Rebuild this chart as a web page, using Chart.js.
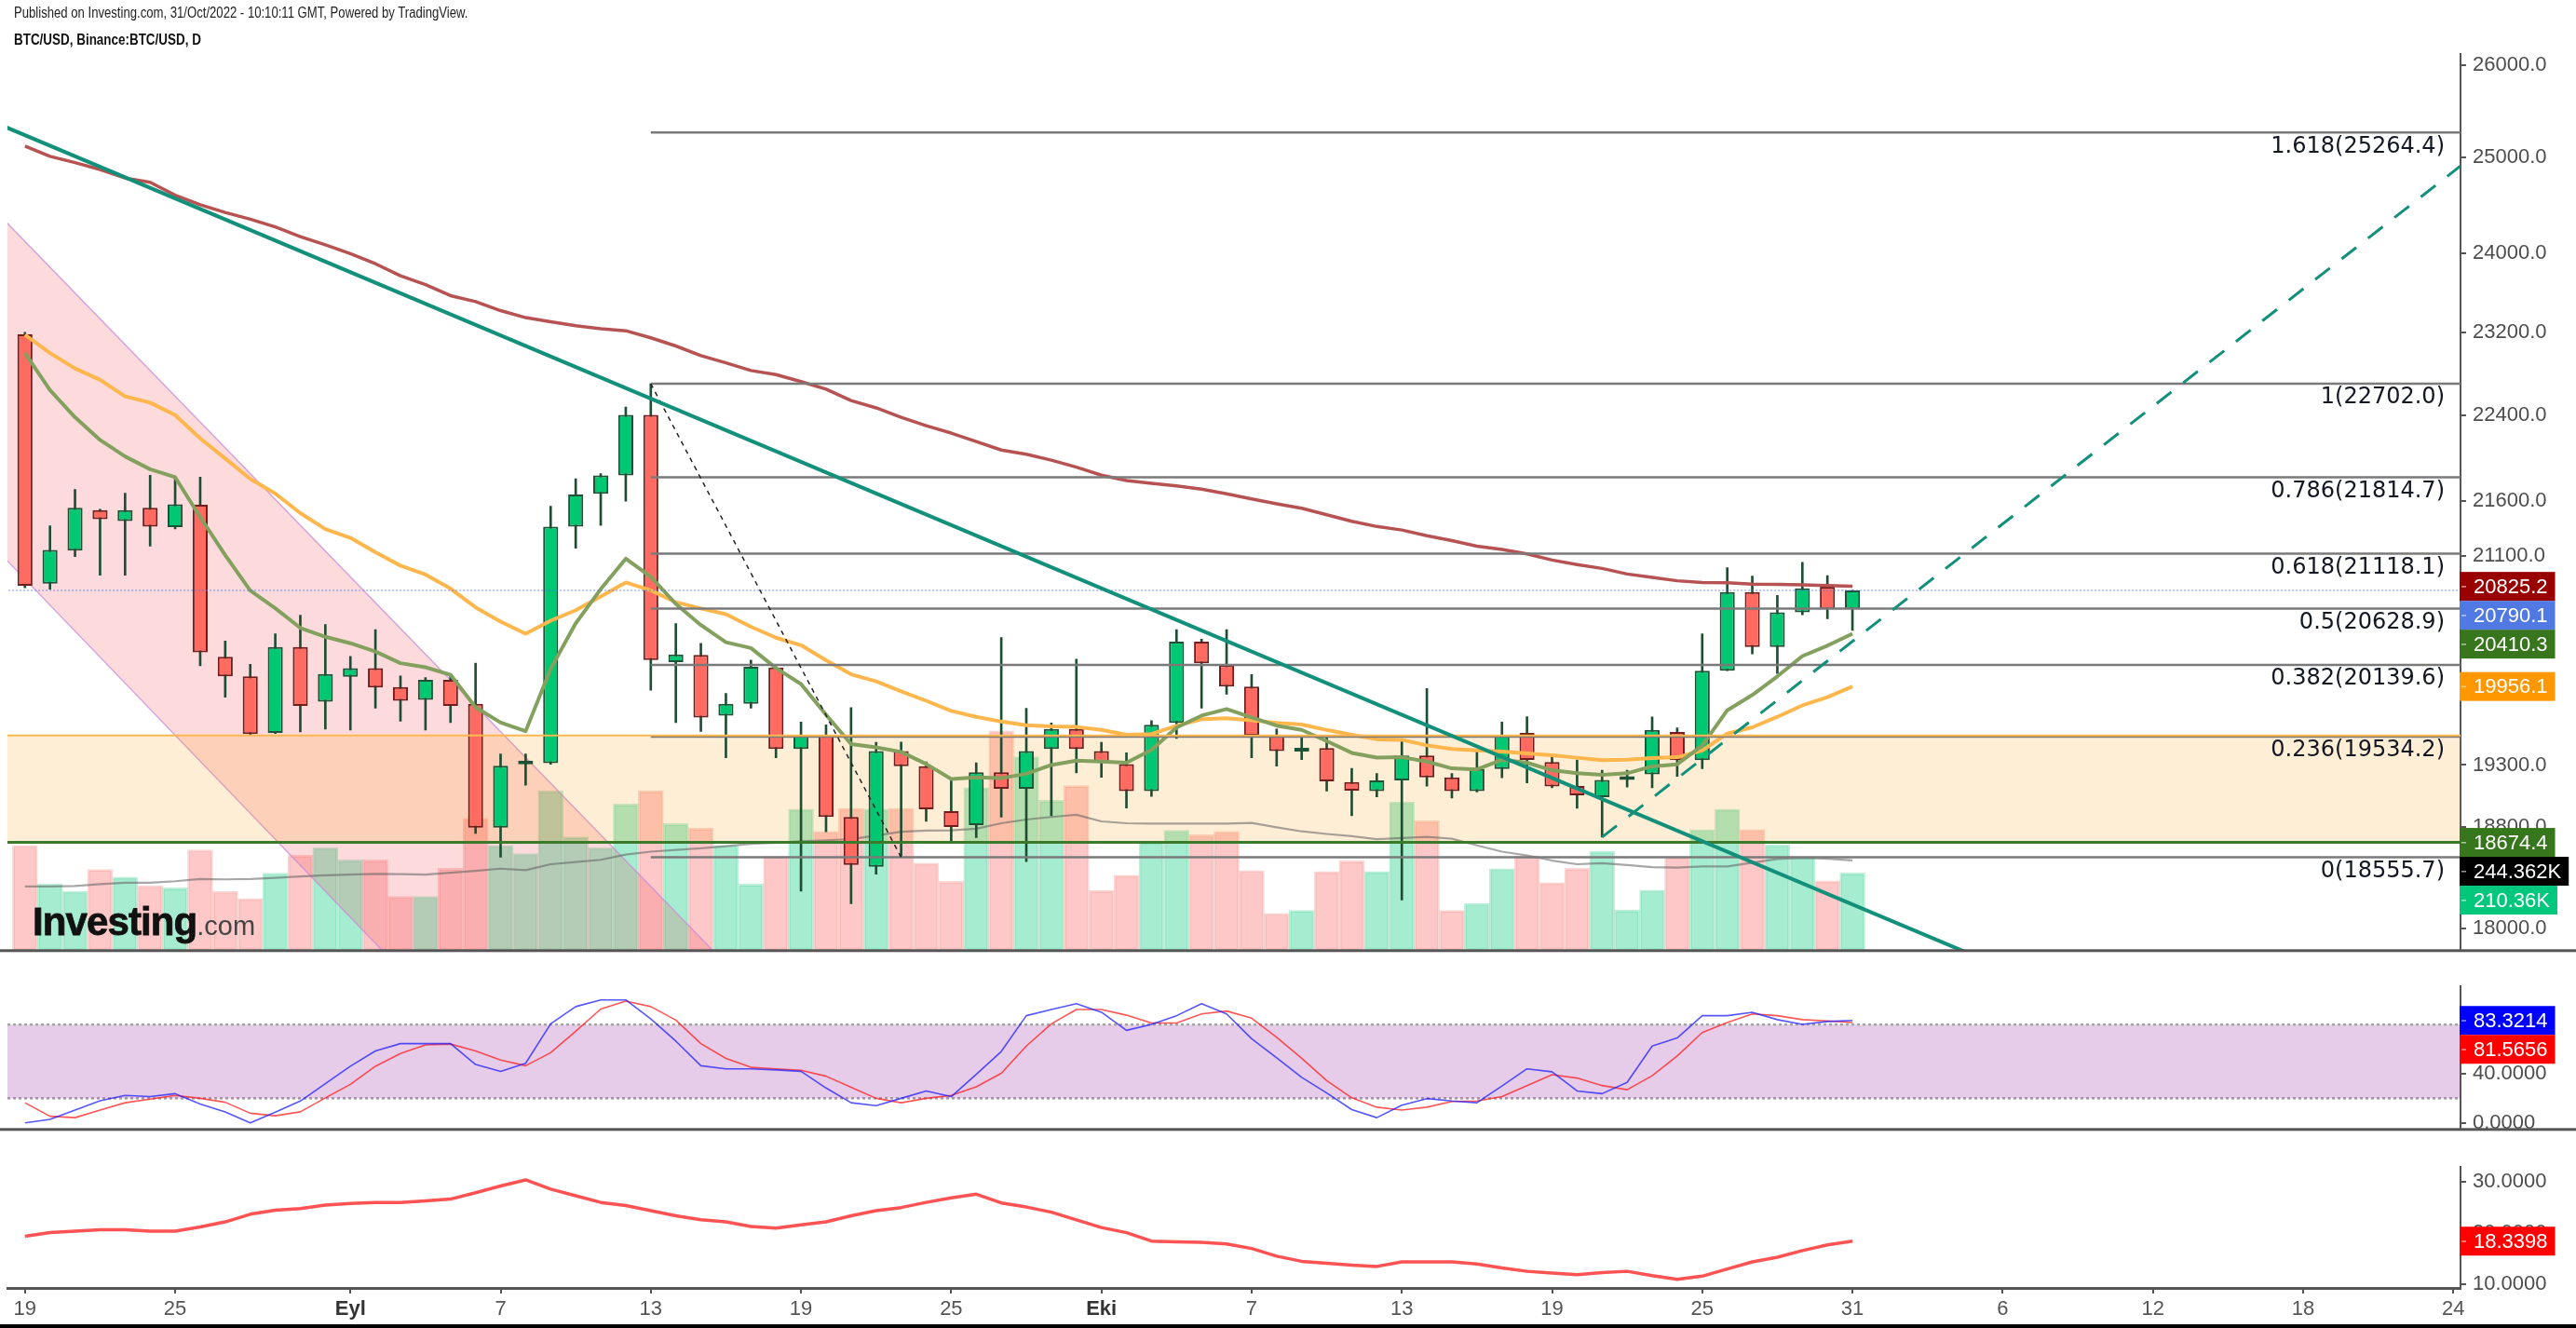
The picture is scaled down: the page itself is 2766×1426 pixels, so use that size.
<!DOCTYPE html>
<html>
<head>
<meta charset="utf-8">
<script src="https://cdn.jsdelivr.net/npm/chart.js@4.4.1/dist/chart.umd.min.js"></script>
<style>
  html, body { margin: 0; padding: 0; background: #fff; }
  #wrap { position: relative; width: 2766px; height: 1426px; overflow: hidden; background: #fff; }
  #wrap canvas { position: absolute; left: 0; }
  #c-main { top: 0; }
  #c-rsi { top: 1039px; }
  #c-adx { top: 1233px; }
  .hdr { position: absolute; left: 15px; font-family: "Liberation Sans", Arial, sans-serif; color: #222;
         white-space: nowrap; transform-origin: 0 0; }
  #h1 { top: 5px; font-size: 16px; transform: scaleX(0.82); }
  #h2 { top: 34px; font-size: 16px; font-weight: bold; color: #111; transform: scaleX(0.84); }
  #logo { position: absolute; left: 35px; top: 969px; line-height: 42px; font-family: "Liberation Sans", Arial, sans-serif; white-space: nowrap; }
  #logo b { font-size: 42px; letter-spacing: -0.9px; color: #111; -webkit-text-stroke: 0.8px #111; }
  #logo span { font-size: 29px; color: #444; }
  #bottomline { position: absolute; left: 0; top: 1422px; width: 2766px; height: 4px; background: #000; }
</style>
</head>
<body>
<div id="wrap">
  <canvas id="c-main" width="2766" height="1041"></canvas>
  <canvas id="c-rsi" width="2766" height="194"></canvas>
  <canvas id="c-adx" width="2766" height="193"></canvas>
  <div class="hdr" id="h1">Published on Investing.com, 31/Oct/2022 - 10:10:11 GMT, Powered by TradingView.</div>
  <div class="hdr" id="h2">BTC/USD, Binance:BTC/USD, D</div>
  <div id="logo"><b>Investing</b><span>.com</span></div>
  <div id="bottomline"></div>
</div>
<script>
/* BTC/USD daily, 19 Aug – 31 Oct 2022 (index 0 = 19 Aug) */

// ── x axis ────────────────────────────────────────────
const TICK_IDX  = [0, 6, 13, 19, 25, 31, 37, 43, 49, 55, 61, 67, 73, 79, 85, 91, 97];
const TICK_TEXT = ['19', '25', 'Eyl', '7', '13', '19', '25', 'Eki', '7', '13', '19', '25', '31', '6', '12', '18', '24'];
const MONTH_TICKS = ['Eyl', 'Eki'];

// ── candles ───────────────────────────────────────────
const OPEN = [
  23185,20850,21144,21513,21413,21533,21357,21561,20211,20042,
  19566,20294,19828,20038,20112,19952,19842,20013,19810,18791,
  19305,19315,21361,21663,21833,22402,20164,20227,19710,19810,
  20118,19432,19548,18877,18481,19415,19290,18924,18813,19241,
  19105,19432,19599,19415,19308,19087,19650,20340,20138,19955,
  19542,19410,19440,19160,19087,19173,19378,19199,19087,19268,
  19566,19324,19128,19038,19178,19223,19573,19339,20090,20774,
  20294,20597,20822,20624];
const HIGH = [
  23205,21369,21702,21520,21668,21835,21814,21818,20347,20145,
  20408,20572,20490,20214,20446,20045,20032,20045,20155,19391,
  19391,21549,21802,21850,22477,22702,20499,20327,19897,20182,
  20125,19656,19633,19777,19487,19490,19326,19177,19319,20377,
  19772,19649,20189,19487,19400,19668,20446,20362,20446,20057,
  19598,19548,19542,19272,19230,19509,19938,19230,19415,19656,
  19701,19374,19342,19256,19256,19700,19608,20409,20991,20916,
  20745,21040,20920,20790];
const LOW = [
  20812,20800,21092,20924,20924,21186,21341,20132,19866,19550,
  19560,19574,19598,19590,19772,19663,19590,19652,18746,18557,
  19135,19305,21166,21373,21594,19925,19652,19578,19360,19772,
  19360,18291,18758,18192,18423,18557,18842,18678,18712,18877,
  18523,18888,19236,19199,18949,19044,19519,19772,19890,19360,
  19290,19345,19087,18888,19040,18222,19126,19030,19080,19196,
  19154,19114,18947,18716,19119,19114,19206,19269,20090,20235,
  20067,20574,20540,20438];
const CLOSE = [
  20831,21151,21533,21429,21513,21361,21565,20249,20042,19556,
  20294,19791,20063,20112,19948,19834,20013,19791,18791,19294,
  19330,21361,21657,21833,22402,20182,20230,19694,19810,20125,
  19432,19548,18877,18496,19415,19290,18939,18798,19241,19105,
  19415,19599,19432,19326,19087,19633,20340,20155,19955,19542,
  19415,19440,19167,19091,19173,19378,19199,19087,19268,19548,
  19342,19125,19053,19178,19206,19591,19339,20090,20774,20294,
  20597,20807,20624,20790];

// ── volume (thousands) and its average ───────────────
const VOLUME = [
  285,181,161,220,199,176,170,273,161,141,
  210,259,279,246,246,147,147,223,358,285,
  263,433,308,279,397,433,344,332,285,180,
  255,383,323,385,383,385,237,188,441,595,
  525,407,447,163,204,293,326,314,323,217,
  101,109,214,243,214,403,352,109,128,222,
  257,184,223,269,110,164,254,328,383,328,
  287,254,189,210.36];
const VOL_MA = [
  174,174,175,180,184,184,188,194,193,194,
  197,201,204,206,208,207,206,211,216,222,
  218,234,240,246,260,268,273,277,283,289,
  292,296,299,302,312,322,325,326,330,345,
  355,362,368,350,345,344,344,344,344,346,
  334,323,316,310,302,305,308,303,285,268,
  258,244,234,237,232,226,225,228,228,238,
  248,251,249,244.4];

// ── moving averages on price ─────────────────────────
const MA_LONG = [
  25120,25010,24943,24870,24780,24735,24600,24500,24420,24350,
  24270,24170,24085,23995,23892,23770,23680,23570,23510,23420,
  23350,23310,23270,23240,23220,23150,23070,22975,22905,22830,
  22790,22723,22650,22540,22470,22380,22300,22230,22150,22070,
  22030,21975,21910,21835,21785,21760,21735,21705,21662,21615,
  21570,21530,21470,21410,21363,21331,21280,21235,21185,21155,
  21115,21060,21020,20985,20935,20905,20875,20860,20858,20846,
  20843,20838,20832,20826];
const EMA_SLOW = [
  23180,23000,22850,22740,22580,22520,22400,22180,21990,21800,
  21665,21485,21340,21260,21130,21010,20930,20805,20640,20515,
  20410,20523,20615,20735,20860,20790,20685,20630,20580,20470,
  20375,20310,20180,20060,20000,19915,19835,19750,19700,19660,
  19630,19620,19615,19590,19550,19556,19625,19680,19688,19670,
  19650,19635,19590,19550,19512,19508,19462,19432,19420,19410,
  19395,19381,19360,19340,19343,19357,19364,19420,19560,19612,
  19700,19796,19865,19956];
const EMA_FAST = [
  23000,22640,22380,22165,22010,21890,21816,21449,21104,20788,
  20632,20460,20383,20327,20255,20155,20120,20056,19780,19652,
  19580,20107,20500,20801,21072,20911,20670,20485,20336,20285,
  20113,19977,19718,19473,19445,19408,19308,19185,19199,19192,
  19228,19300,19336,19329,19319,19425,19610,19710,19765,19695,
  19626,19591,19498,19400,19361,19364,19328,19272,19264,19343,
  19319,19257,19232,19219,19232,19289,19306,19460,19755,19884,
  20042,20216,20306,20410];

// ── stochastic RSI (K blue, D red) ───────────────────
const STOCH_K = [
  0,2.9,10.4,18,22.4,21.4,23.8,15.4,9,0,
  8.8,17.8,32,46.1,58.5,64.5,64.5,64.5,47.5,41.9,
  48.5,80.6,94.6,100,100,84.6,66.5,46.5,44,44,
  43.1,42,28.4,16.4,14,20,26,21.4,39.5,58.1,
  87.2,92.2,97,90,75.3,80.1,87.2,97,88.6,68.5,
  53,37,24.4,10.8,4.3,14.4,19.8,17.8,16.4,30,
  44,41.6,26,23.8,33,62.5,69.1,87.2,87.2,90,
  84,80.1,82.5,83.3];
const STOCH_D = [
  16.4,5.4,4.3,10.4,16.4,19.4,22.4,20,16.8,7.9,
  5.8,9,20.4,31.4,46.1,56.5,63.5,64.1,58.5,51.1,
  46.5,57.1,74.5,92.6,99,94.6,83.6,64.5,52.5,45.2,
  44,42.8,38,29,20,16.4,20,22.4,29.4,40.4,
  62.5,80.6,92.2,92.2,87.6,81.2,81.2,88.6,91,85.2,
  69.6,52.5,34.4,20.4,12.8,10.4,12.8,17.4,17.8,21.4,
  30.4,39.2,36.5,30.4,27,38.4,54.5,73.5,81.6,88.6,
  87.2,84,83,81.6];
const RSI_BAND = [80, 20];

// ── lower oscillator line ────────────────────────────
const ADX_LINE = [
  19.3,20,20.3,20.55,20.55,20.3,20.3,21.1,22.1,23.6,
  24.4,24.7,25.4,25.7,25.9,25.9,26.2,26.55,27.8,29.1,
  30.3,28.5,27.2,25.9,25.3,24.3,23.3,22.5,22.1,21.2,
  20.9,21.5,22.1,23.3,24.3,24.9,25.9,26.8,27.5,25.8,
  25,24,22.5,21,20,18.35,18.2,18.1,17.8,16.9,
  15.4,14.4,14,13.65,13.4,14.3,14.3,14.3,13.9,13.1,
  12.45,12.1,11.8,12.2,12.45,11.6,10.9,11.5,12.9,14.3,
  15.2,16.5,17.6,18.34];

// ── drawings ─────────────────────────────────────────
const FIB_LEVELS = [1.618, 1, 0.786, 0.618, 0.5, 0.382, 0.236, 0];
const FIB_PRICES = [25264.4, 22702.0, 21814.7, 21118.1, 20628.9, 20139.6, 19534.2, 18555.7];
const FIB_FROM = 25;                                   // 13 Sep high
const FIB_DIAG = [[25, 22702.0], [35, 18555.7]];
const DOWN_TREND = [[-1, 25350], [77.9, 17792]];
const UP_TREND = [[63, 18716], [98, 25056]];
const CHANNEL = [[-1, 24386], [29, 17539], [16, 17496], [-1, 21123]];
const BAND_TOP = 19545;
const SUPPORT = 18674.4;
const LAST_PRICE = 20790.1;

// ── right axis ticks and tags ───────────────────────
const PRICE_TICKS = [26000, 25000, 24000, 23200, 22400, 21600, 21100, 20600, 20000, 19300, 18800, 18000];
const RSI_TICKS = [80, 40, 0];
const ADX_TICKS = [30, 20, 10];
const MAIN_TAGS = [
  { axis: 'y',  value: 20825.2, text: '20825.2',  bg: '#990000' },
  { axis: 'y',  value: 20790.1, text: '20790.1',  bg: '#5079e3' },
  { axis: 'y',  value: 20410.3, text: '20410.3',  bg: '#38761d' },
  { axis: 'y',  value: 19956.1, text: '19956.1',  bg: '#ff9800' },
  { axis: 'y',  value: 18674.4, text: '18674.4',  bg: '#38761d' },
  { axis: 'yv', value: 244.362, text: '244.362K', bg: '#000000' },
  { axis: 'yv', value: 210.36,  text: '210.36K',  bg: '#00c77b' },
];
const RSI_TAGS = [
  { axis: 'y', value: 83.3214, text: '83.3214', bg: '#0000ff' },
  { axis: 'y', value: 81.5656, text: '81.5656', bg: '#ff0000' },
];
const ADX_TAGS = [
  { axis: 'y', value: 18.3398, text: '18.3398', bg: '#ff0000' },
];

// ── view ranges ──────────────────────────────────────
const X_MIN = -0.699, X_MAX = 97.29;
const PRICE_MIN = 17833, PRICE_MAX = 26124;
const VOL_MAX = 2428;
const RSI_MIN = -5.3, RSI_MAX = 111;
const ADX_MIN = 9.2, ADX_MAX = 32.8;

const FONT = '"Liberation Sans", Arial, sans-serif';
const AXIS_W = 124;
const AXIS_COLOR = '#555';
const UP_BODY = '#00c872', UP_EDGE = '#1d5236';
const DN_BODY = '#ff6b61', DN_EDGE = '#6f1d1d';
const WICK = '#1e4e31';

const isUp = i => CLOSE[i] >= OPEN[i];
const pts = arr => arr.map((v, i) => ({ x: i, y: v }));
const seg = pairs => pairs.map(([x, y]) => ({ x, y }));

// ── plugins ──────────────────────────────────────────
const tagPlugin = {
  id: 'priceTags',
  afterDraw(chart, args, opts) {
    if (!opts.items) return;
    const { ctx, chartArea } = chart;
    const h = 31;
    const items = opts.items
      .map(it => ({ ...it, y: chart.scales[it.axis].getPixelForValue(it.value) }))
      .sort((a, b) => a.y - b.y);
    let prev = -Infinity;
    ctx.save();
    ctx.font = '22px ' + FONT;
    ctx.textBaseline = 'middle';
    items.forEach(it => {
      const y = Math.max(it.y, prev + h);
      prev = y;
      const w = ctx.measureText(it.text).width;
      ctx.fillStyle = it.bg;
      ctx.fillRect(chartArea.right - 1, y - h / 2, w + 23, h);
      ctx.fillStyle = 'rgba(255,255,255,0.6)';
      ctx.fillRect(chartArea.right + 1, y - 0.5, 5, 1.5);
      ctx.fillStyle = '#fff';
      ctx.fillText(it.text, chartArea.right + 14, y + 1);
    });
    ctx.restore();
  }
};

const separatorPlugin = {
  id: 'paneSeparator',
  afterDraw(chart, args, opts) {
    if (!opts.show) return;
    const { ctx, chartArea } = chart;
    ctx.save();
    ctx.fillStyle = AXIS_COLOR;
    ctx.fillRect(0, chartArea.bottom - 1.5, chart.width, 3);
    ctx.restore();
  }
};

const fibLabelPlugin = {
  id: 'fibLabels',
  afterDatasetsDraw(chart) {
    const { ctx, chartArea, scales } = chart;
    ctx.save();
    ctx.font = '24px "DejaVu Sans", Verdana, sans-serif';
    ctx.fillStyle = '#131722';
    ctx.textAlign = 'right';
    ctx.textBaseline = 'middle';
    FIB_PRICES.forEach((p, i) => {
      const y = scales.y.getPixelForValue(p);
      ctx.fillText(FIB_LEVELS[i] + '(' + p.toFixed(1) + ')', chartArea.right - 17, y + 15);
    });
    ctx.restore();
  }
};

// ── shared option pieces ─────────────────────────────
function hiddenX() {
  return { type: 'linear', min: X_MIN, max: X_MAX, bounds: 'data', offset: false, display: false };
}
function rightAxis(extra) {
  return Object.assign({
    position: 'right',
    bounds: 'data',
    afterFit: s => { s.width = AXIS_W; },
    ticks: { color: '#4d4d4d', font: { family: FONT, size: 22 }, padding: 7, autoSkip: false },
    grid: { drawOnChartArea: false, drawTicks: true, tickLength: 6, color: AXIS_COLOR, lineWidth: 2 },
    border: { display: true, color: AXIS_COLOR, width: 2 },
  }, extra);
}
const base = {
  animation: false, responsive: false, devicePixelRatio: 1, events: [],
};
const lineDs = (data, color, width, extra) => Object.assign({
  type: 'line', data, borderColor: color, borderWidth: width,
  pointRadius: 0, tension: 0, fill: false, yAxisID: 'y', borderJoinStyle: 'round',
}, extra);

// ── main pane ────────────────────────────────────────
const fibDatasets = FIB_PRICES.map(p =>
  lineDs([{ x: FIB_FROM, y: p }, { x: X_MAX + 2, y: p }], '#7a7a7a', 2.5, { order: 20 }));

new Chart(document.getElementById('c-main'), {
  type: 'bar',
  data: {
    datasets: [
      {
        type: 'bar', yAxisID: 'yv', data: pts(VOLUME),
        backgroundColor: VOLUME.map((v, i) => isUp(i) ? 'rgba(0,200,120,0.35)' : 'rgba(248,95,90,0.34)'),
        borderColor: VOLUME.map((v, i) => isUp(i) ? 'rgba(0,190,110,0.25)' : 'rgba(240,90,85,0.25)'),
        borderWidth: 2, borderSkipped: false,
        barPercentage: 1, categoryPercentage: 1, grouped: false, order: 100,
      },
      lineDs(seg(CHANNEL), 'rgba(200,140,215,0.75)', 1.5,
        { fill: 'shape', backgroundColor: 'rgba(242,54,69,0.18)', order: 90 }),
      lineDs([{ x: X_MIN - 1, y: BAND_TOP }, { x: X_MAX + 1, y: BAND_TOP },
              { x: X_MAX + 1, y: SUPPORT }, { x: X_MIN - 1, y: SUPPORT }], 'rgba(0,0,0,0)', 0,
        { fill: 'shape', backgroundColor: 'rgba(255,152,0,0.16)', order: 88 }),
      lineDs(pts(VOL_MA), 'rgba(95,95,95,0.55)', 2.2, { yAxisID: 'yv', order: 80 }),
      {
        type: 'bar', yAxisID: 'y', data: HIGH.map((h, i) => ({ x: i, y: [LOW[i], h] })),
        backgroundColor: WICK, barThickness: 2, grouped: false, order: 50,
      },
      {
        type: 'bar', yAxisID: 'y', data: OPEN.map((o, i) => ({ x: i, y: [o, CLOSE[i]] })),
        backgroundColor: OPEN.map((o, i) => isUp(i) ? UP_BODY : DN_BODY),
        borderColor: OPEN.map((o, i) => isUp(i) ? UP_EDGE : DN_EDGE),
        borderWidth: 2, borderSkipped: false, minBarLength: 4,
        barPercentage: 0.6, categoryPercentage: 1, grouped: false, order: 40,
      },
      lineDs(pts(MA_LONG), '#b65352', 3.5, { order: 32 }),
      lineDs(pts(EMA_SLOW), '#ffb74d', 4, { order: 31 }),
      lineDs(pts(EMA_FAST), '#83a05e', 4, { order: 30 }),
      ...fibDatasets,
      lineDs([{ x: X_MIN - 1, y: BAND_TOP }, { x: X_MAX + 1, y: BAND_TOP }], '#ffb74d', 2, { order: 19 }),
      lineDs([{ x: X_MIN - 1, y: SUPPORT }, { x: X_MAX + 1, y: SUPPORT }], '#3a7a2a', 3, { order: 18 }),
      lineDs([{ x: X_MIN - 1, y: LAST_PRICE }, { x: X_MAX + 1, y: LAST_PRICE }], 'rgba(80,115,230,0.55)', 1.5,
        { borderDash: [2, 2], order: 17 }),
      lineDs(seg(FIB_DIAG), '#222', 1.5, { borderDash: [5, 5], order: 12 }),
      lineDs(seg(DOWN_TREND), '#12907a', 4, { order: 11 }),
      lineDs(seg(UP_TREND), '#12907a', 3, { borderDash: [20, 16], order: 10 }),
    ]
  },
  options: Object.assign({}, base, {
    layout: { padding: { top: 58, left: 8, right: 0, bottom: 2 } },
    plugins: {
      legend: { display: false }, tooltip: { enabled: false },
      priceTags: { items: MAIN_TAGS }, paneSeparator: { show: true },
    },
    scales: {
      x: hiddenX(),
      y: rightAxis({
        type: 'logarithmic', min: PRICE_MIN, max: PRICE_MAX,
        afterBuildTicks: s => { s.ticks = PRICE_TICKS.map(v => ({ value: v })); },
        ticks: { color: '#4d4d4d', font: { family: FONT, size: 22 }, padding: 7, autoSkip: false,
                 callback: v => Number(v).toFixed(1) },
      }),
      yv: { type: 'linear', display: false, min: 0, max: VOL_MAX, bounds: 'data' },
    }
  }),
  plugins: [fibLabelPlugin, tagPlugin, separatorPlugin]
});

// ── stochastic RSI pane ─────────────────────────────
new Chart(document.getElementById('c-rsi'), {
  type: 'line',
  data: {
    datasets: [
      lineDs([{ x: X_MIN, y: RSI_BAND[0] }, { x: X_MAX, y: RSI_BAND[0] }], '#a5a5a5', 2.5,
        { borderDash: [3, 3], fill: '+1', backgroundColor: 'rgba(150,40,160,0.24)', order: 5 }),
      lineDs([{ x: X_MIN, y: RSI_BAND[1] }, { x: X_MAX, y: RSI_BAND[1] }], '#a5a5a5', 2.5,
        { borderDash: [3, 3], order: 5 }),
      lineDs(pts(STOCH_D), 'rgba(255,30,30,0.75)', 1.6, { order: 2 }),
      lineDs(pts(STOCH_K), 'rgba(30,30,255,0.75)', 1.6, { order: 1 }),
    ]
  },
  options: Object.assign({}, base, {
    layout: { padding: { top: 0, left: 8, right: 0, bottom: 0 } },
    plugins: {
      legend: { display: false }, tooltip: { enabled: false },
      priceTags: { items: RSI_TAGS }, paneSeparator: { show: true },
    },
    scales: {
      x: hiddenX(),
      y: rightAxis({
        type: 'linear', min: RSI_MIN, max: RSI_MAX,
        afterBuildTicks: s => { s.ticks = RSI_TICKS.map(v => ({ value: v })); },
        ticks: { color: '#4d4d4d', font: { family: FONT, size: 22 }, padding: 7, autoSkip: false,
                 callback: v => Number(v).toFixed(4) },
      }),
    }
  }),
  plugins: [tagPlugin, separatorPlugin]
});

// ── lower pane + date axis ──────────────────────────
new Chart(document.getElementById('c-adx'), {
  type: 'line',
  data: {
    datasets: [
      lineDs(pts(ADX_LINE), '#ff5252', 3.5, { order: 1 }),
    ]
  },
  options: Object.assign({}, base, {
    layout: { padding: { top: 0, left: 8, right: 0, bottom: 0 } },
    plugins: {
      legend: { display: false }, tooltip: { enabled: false },
      priceTags: { items: ADX_TAGS },
    },
    scales: {
      x: {
        type: 'linear', min: X_MIN, max: X_MAX, bounds: 'data', offset: false,
        afterBuildTicks: s => { s.ticks = TICK_IDX.map(v => ({ value: v })); },
        afterFit: s => { s.height = 43; },
        ticks: {
          autoSkip: false, maxRotation: 0, padding: 4,
          callback: (v, i) => TICK_TEXT[i],
          color: c => MONTH_TICKS.includes(TICK_TEXT[c.index]) ? '#333' : '#555',
          font: c => ({ family: FONT, size: 22,
                        weight: MONTH_TICKS.includes(TICK_TEXT[c.index]) ? 'bold' : 'normal' }),
        },
        grid: { drawOnChartArea: false, drawTicks: true, tickLength: 6, color: AXIS_COLOR, lineWidth: 2 },
        border: { display: true, color: AXIS_COLOR, width: 3 },
      },
      y: rightAxis({
        type: 'linear', min: ADX_MIN, max: ADX_MAX,
        afterBuildTicks: s => { s.ticks = ADX_TICKS.map(v => ({ value: v })); },
        ticks: { color: '#4d4d4d', font: { family: FONT, size: 22 }, padding: 7, autoSkip: false,
                 callback: v => Number(v).toFixed(4) },
      }),
    }
  }),
  plugins: [tagPlugin]
});
</script>
</body>
</html>
